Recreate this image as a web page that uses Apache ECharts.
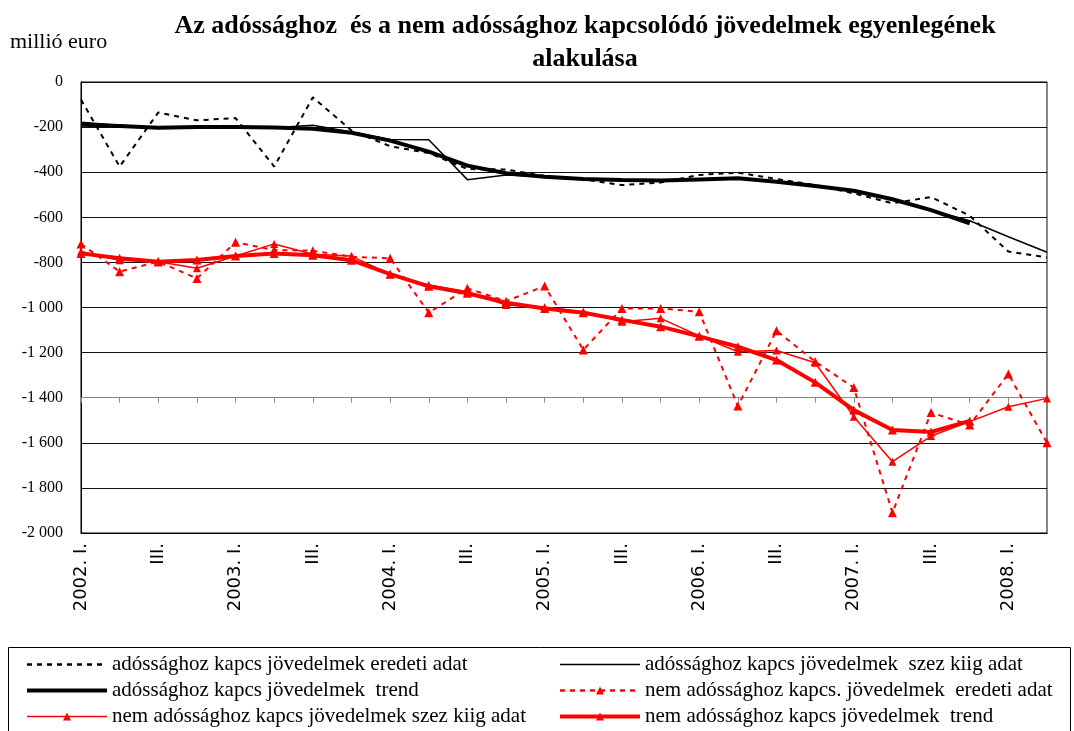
<!DOCTYPE html>
<html>
<head>
<meta charset="utf-8">
<script src="https://cdn.jsdelivr.net/npm/echarts@6/dist/echarts.min.js"></script>
<style>
  html, body { margin: 0; padding: 0; background: #fff; }
  #chart { width: 1074px; height: 731px; }
</style>
</head>
<body>
<div id="chart"></div>
<script>
// quarters 2002 I. - 2008 II.
const categories = [
  "2002. I.", "II.", "III.", "IV.",
  "2003. I.", "II.", "III.", "IV.",
  "2004. I.", "II.", "III.", "IV.",
  "2005. I.", "II.", "III.", "IV.",
  "2006. I.", "II.", "III.", "IV.",
  "2007. I.", "II.", "III.", "IV.",
  "2008. I.", "II."
];

// adóssághoz kapcsolódó jövedelmek
const debtOriginal = [-78, -375, -135, -170, -160, -375, -68, -215, -285, -315, -386, -388, -417, -432, -457, -446, -412, -402, -430, -457, -494, -538, -510, -593, -752, -778];
const debtSeasAdj = [-178, -192, -203, -200, -200, -203, -192, -222, -255, -256, -433, -412, -420, -430, -435, -435, -430, -425, -440, -460, -485, -520, -568, -615, -686, -755];
const debtTrend = [-190, -195, -203, -200, -200, -202, -207, -225, -260, -309, -371, -405, -420, -430, -435, -437, -432, -427, -442, -461, -482, -520, -568, -627, null, null];

// nem adóssághoz kapcsolódó jövedelmek
const nonDebtOriginal = [-718, -841, -797, -871, -711, -745, -748, -775, -782, -1023, -915, -972, -905, -1188, -1004, -1004, -1019, -1437, -1103, -1240, -1355, -1910, -1466, -1521, -1295, -1600];
const nonDebtSeasAdj = [-752, -790, -797, -826, -772, -718, -764, -772, -853, -900, -930, -989, -999, -1019, -1063, -1048, -1126, -1196, -1191, -1245, -1484, -1684, -1570, -1506, -1440, -1403];
const nonDebtTrend = [-760, -782, -797, -789, -772, -760, -768, -790, -852, -906, -937, -979, -1004, -1023, -1055, -1085, -1128, -1174, -1233, -1332, -1455, -1543, -1552, -1503, null, null];

const names = [
  "adóssághoz kapcs jövedelmek eredeti adat",
  "adóssághoz kapcs jövedelmek  szez kiig adat",
  "adóssághoz kapcs jövedelmek  trend",
  "nem adóssághoz kapcs. jövedelmek  eredeti adat",
  "nem adóssághoz kapcs jövedelmek szez kiig adat",
  "nem adóssághoz kapcs jövedelmek  trend"
];

const serif = '"Liberation Serif", "Times New Roman", serif';
const red = "#ff0000";
const widths = [2, 1.5, 4, 2, 1.5, 4];

function lineSeries(i, data, color, dashed, symbolSize) {
  return {
    name: names[i],
    type: "line",
    data: data,
    z: 5,
    silent: true,
    symbol: symbolSize ? "triangle" : "circle",
    symbolSize: symbolSize || 0,
    showSymbol: !!symbolSize,
    showAllSymbol: true,
    lineStyle: { color: color, width: widths[i], type: dashed ? [5, 5] : "solid" },
    // plain lines get a see-through symbol so the legend shows only the line
    itemStyle: { color: symbolSize ? color : "rgba(0,0,0,0)" },
  };
}

function legendItem(i) {
  return { name: names[i], lineStyle: { width: widths[i] === 2 ? 2.5 : widths[i] } };
}

function fmtTick(v) {
  const s = String(Math.abs(v)).replace(/\B(?=(\d{3})+(?!\d))/g, " ");
  return v < 0 ? "-" + s : s;
}

const legendBase = {
  orient: "vertical", top: 649, height: 100,
  itemWidth: 80, itemHeight: 10, itemGap: 5,
  selectedMode: false,
  textStyle: { fontFamily: serif, fontSize: 21, color: "#000", lineHeight: 19 },
};

const chart = echarts.init(document.getElementById("chart"));

const option = {
  animation: false,
  backgroundColor: "#fff",
  graphic: [
    {
      type: "text", x: 585, y: 26,
      style: {
        text: "Az adóssághoz  és a nem adóssághoz kapcsolódó jövedelmek egyenlegének",
        align: "center", verticalAlign: "middle",
        font: 'bold 26px "Liberation Serif"', fill: "#000",
      },
    },
    {
      type: "text", x: 585, y: 59,
      style: {
        text: "alakulása", align: "center", verticalAlign: "middle",
        font: 'bold 26px "Liberation Serif"', fill: "#000",
      },
    },
    {
      type: "text", x: 10, y: 42,
      style: {
        text: "millió euro", align: "left", verticalAlign: "middle",
        font: '22px "Liberation Serif"', fill: "#000",
      },
    },
    {
      type: "rect",
      shape: { x: 8.5, y: 647.5, width: 1062, height: 120 },
      style: { fill: "none", stroke: "#000", lineWidth: 1 },
    },
  ],
  legend: [
    Object.assign({}, legendBase, { left: 20, data: [legendItem(0), legendItem(2), legendItem(4)] }),
    Object.assign({}, legendBase, { left: 553, data: [legendItem(1), legendItem(3), legendItem(5)] }),
  ],
  grid: {
    left: 81, right: 27, top: 82, bottom: 198,
    show: true, borderColor: "#000", borderWidth: 1,
    outerBoundsMode: "none",
  },
  xAxis: [
    {
      type: "category",
      data: categories,
      boundaryGap: false,
      position: "bottom",
      axisLine: { show: true, onZero: false, lineStyle: { color: "#000", width: 1 } },
      axisTick: { show: false },
      splitLine: { show: false },
      axisLabel: {
        interval: 1, rotate: 90, margin: 10,
        fontFamily: '"DejaVu Sans", Verdana, sans-serif', fontSize: 18, color: "#000",
      },
    },
    {
      type: "category",
      data: categories,
      boundaryGap: false,
      position: "bottom",
      z: 3,
      axisLine: { show: true, onZero: true, onZeroAxisIndex: 1, lineStyle: { color: "#888", width: 1 } },
      axisTick: { show: true, interval: 0, length: 5, lineStyle: { color: "#888" } },
      axisLabel: { show: false },
      splitLine: { show: false },
    },
  ],
  yAxis: [
    {
      type: "value",
      min: -2000, max: 0, interval: 200,
      axisLine: { show: true, lineStyle: { color: "#000", width: 1 } },
      axisTick: { show: false },
      splitLine: { show: true, lineStyle: { color: "#111", width: 1 } },
      axisLabel: {
        margin: 18, fontFamily: serif, fontSize: 16, color: "#000",
        formatter: fmtTick,
      },
    },
    {
      // helper axis: its zero sits at -1400 of the main axis, where the category axis crosses
      type: "value",
      min: -600, max: 1400, interval: 200,
      position: "right",
      axisLine: { show: true, lineStyle: { color: "#888", width: 1 } },
      axisTick: { show: false },
      axisLabel: { show: false },
      splitLine: { show: false },
    },
  ],
  series: [
    lineSeries(0, debtOriginal, "#000", true, 0),
    lineSeries(1, debtSeasAdj, "#000", false, 0),
    lineSeries(2, debtTrend, "#000", false, 0),
    lineSeries(3, nonDebtOriginal, red, true, 9),
    lineSeries(4, nonDebtSeasAdj, red, false, 8),
    lineSeries(5, nonDebtTrend, red, false, 9),
  ],
};

chart.setOption(option);
</script>
</body>
</html>
